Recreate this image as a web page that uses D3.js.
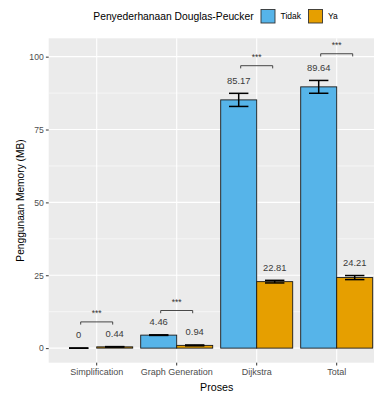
<!DOCTYPE html>
<html>
<head>
<meta charset="utf-8">
<script src="https://cdn.jsdelivr.net/npm/d3@7"></script>
<style>
  html, body { margin: 0; padding: 0; background: #ffffff; }
  svg { display: block; font-family: "Liberation Sans", Arial, sans-serif; }
</style>
</head>
<body>
<svg id="chart" width="374" height="398"></svg>
<script>
// Memory usage per process, with and without Douglas-Peucker simplification
const categories = ["Simplification", "Graph Generation", "Dijkstra", "Total"];
const groups = ["Tidak", "Ya"];
const meanTidak = [0, 4.46, 85.17, 89.64];
const meanYa = [0.44, 0.94, 22.81, 24.21];
const sdTidak = [0.05, 0.1, 2.25, 2.2];
const sdYa = [0.08, 0.15, 0.45, 0.7];
const bracketY = [9.0, 12.9, 96.9, 101.0];
const signifLabels = ["***", "***", "***", "***"];
const yTicks = [0, 25, 50, 75, 100];
const yMinor = [12.5, 37.5, 62.5, 87.5];
const groupColors = { Tidak: "#56B4E9", Ya: "#E69F00" };

const svg = d3.select("#chart");
const panel = { left: 48.7, right: 384.7, top: 38.3, bottom: 362.7 };

const x = d3.scaleBand()
  .domain(categories)
  .range([panel.left, panel.right])
  .paddingInner(0.1)
  .paddingOuter(0.15);
const xSub = d3.scaleBand().domain(groups).range([0, x.bandwidth()]);
const y = d3.scaleLinear().domain([-5, 106.3]).range([panel.bottom, panel.top]);

const rows = [];
categories.forEach((c, i) => {
  rows.push({ cat: c, group: "Tidak", mean: meanTidak[i], sd: sdTidak[i] });
  rows.push({ cat: c, group: "Ya", mean: meanYa[i], sd: sdYa[i] });
});
const cx = d => x(d.cat) + xSub(d.group) + xSub.bandwidth() / 2;

// panel background and grid
svg.append("rect")
  .attr("x", panel.left).attr("y", panel.top)
  .attr("width", panel.right - panel.left).attr("height", panel.bottom - panel.top)
  .attr("fill", "#EBEBEB");
const grid = svg.append("g");
grid.selectAll(".minor").data(yMinor).join("line")
  .attr("x1", panel.left).attr("x2", panel.right)
  .attr("y1", d => y(d)).attr("y2", d => y(d))
  .attr("stroke", "#ffffff").attr("stroke-width", 0.55);
grid.selectAll(".major").data(yTicks).join("line")
  .attr("x1", panel.left).attr("x2", panel.right)
  .attr("y1", d => y(d)).attr("y2", d => y(d))
  .attr("stroke", "#ffffff").attr("stroke-width", 1.1);
grid.selectAll(".vmajor").data(categories).join("line")
  .attr("x1", d => x(d) + x.bandwidth() / 2).attr("x2", d => x(d) + x.bandwidth() / 2)
  .attr("y1", panel.top).attr("y2", panel.bottom)
  .attr("stroke", "#ffffff").attr("stroke-width", 1.1);

// bars
svg.append("g").selectAll("rect").data(rows).join("rect")
  .attr("x", d => x(d.cat) + xSub(d.group))
  .attr("width", xSub.bandwidth())
  .attr("y", d => Math.min(y(d.mean), y(0)))
  .attr("height", d => Math.abs(y(0) - y(d.mean)))
  .attr("fill", d => groupColors[d.group])
  .attr("stroke", "#1a1a1a").attr("stroke-width", 0.9);

// error bars
const capHalf = 9.7;
const eb = svg.append("g").attr("stroke", "#000").attr("stroke-width", 1.5).attr("fill", "none");
rows.forEach(d => {
  const c = cx(d), hi = y(d.mean + d.sd), lo = y(d.mean - d.sd);
  eb.append("line").attr("x1", c).attr("x2", c).attr("y1", hi).attr("y2", lo);
  eb.append("line").attr("x1", c - capHalf).attr("x2", c + capHalf).attr("y1", hi).attr("y2", hi);
  eb.append("line").attr("x1", c - capHalf).attr("x2", c + capHalf).attr("y1", lo).attr("y2", lo);
});

// value labels
svg.append("g").selectAll("text").data(rows).join("text")
  .attr("x", d => cx(d))
  .attr("y", d => y(d.mean + d.sd) - 13)
  .attr("dy", "0.35em")
  .attr("text-anchor", "middle")
  .attr("font-size", 9.4)
  .attr("fill", "#3a3a3a")
  .text(d => d.mean === 0 ? "0" : String(d.mean));

// significance brackets
const step = x.step();
const br = svg.append("g");
categories.forEach((c, i) => {
  const mid = x(c) + x.bandwidth() / 2;
  const x1 = mid - 0.2 * step, x2 = mid + 0.2 * step, yy = y(bracketY[i]);
  br.append("path")
    .attr("d", `M${x1},${yy + 2.7}V${yy}H${x2}V${yy + 2.7}`)
    .attr("fill", "none").attr("stroke", "#333").attr("stroke-width", 0.9);
  br.append("text")
    .attr("x", mid).attr("y", yy - 6)
    .attr("text-anchor", "middle")
    .attr("font-size", 8.5).attr("fill", "#333")
    .text(signifLabels[i]);
});

// y axis
const yAxis = svg.append("g").attr("transform", `translate(${panel.left},0)`)
  .call(d3.axisLeft(y).tickValues(yTicks).tickSize(2.8).tickPadding(2.2));
yAxis.select(".domain").remove();
yAxis.selectAll("line").attr("stroke", "#333");
yAxis.selectAll("text").attr("font-size", 8.6).attr("fill", "#4D4D4D")
  .attr("font-family", "Liberation Sans, Arial, sans-serif");

// x axis
const xAxis = svg.append("g").attr("transform", `translate(0,${panel.bottom})`)
  .call(d3.axisBottom(x).tickSize(2.8).tickPadding(3));
xAxis.select(".domain").remove();
xAxis.selectAll("line").attr("stroke", "#333");
xAxis.selectAll("text").attr("font-size", 9).attr("fill", "#4D4D4D")
  .attr("font-family", "Liberation Sans, Arial, sans-serif");

// axis titles
svg.append("text")
  .attr("x", (panel.left + panel.right) / 2).attr("y", 391)
  .attr("text-anchor", "middle").attr("font-size", 10.7).attr("fill", "#000")
  .text("Proses");
svg.append("text")
  .attr("transform", `translate(23.5,${(panel.top + panel.bottom) / 2}) rotate(-90)`)
  .attr("text-anchor", "middle").attr("font-size", 10.2).attr("fill", "#000")
  .text("Penggunaan Memory (MB)");

// legend
const legend = svg.append("g");
legend.append("text")
  .attr("x", 93.3).attr("y", 19.5)
  .attr("font-size", 10.3).attr("fill", "#000")
  .text("Penyederhanaan Douglas-Peucker");
const keyX = [261, 308.5];
groups.forEach((g, i) => {
  legend.append("rect")
    .attr("x", keyX[i]).attr("y", 9.5).attr("width", 14).attr("height", 13.5)
    .attr("fill", groupColors[g]).attr("stroke", "#333").attr("stroke-width", 0.9);
  legend.append("text")
    .attr("x", keyX[i] + 19.5).attr("y", 19.2)
    .attr("font-size", 8.5).attr("fill", "#000")
    .text(g);
});
</script>
</body>
</html>
